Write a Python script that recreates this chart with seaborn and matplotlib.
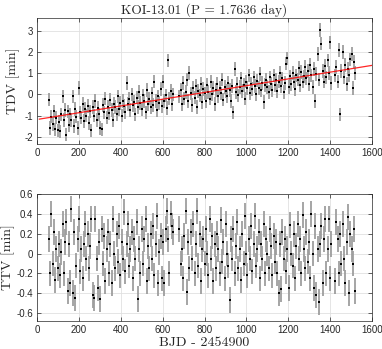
import seaborn as sns
import matplotlib.pyplot as plt

# transit epochs (BJD - 2454900), shared by both panels
bjd = [56, 62, 68, 74, 80, 86, 92, 98, 104, 110,
       116, 122, 128, 134, 140, 146, 152, 158, 164, 170,
       176, 182, 188, 194, 200, 206, 212, 218, 224, 230,
       236, 242, 248, 254, 260, 266, 272, 278, 284, 290,
       296, 302, 308, 314, 320, 326, 332, 338, 344, 350,
       356, 362, 368, 374, 380, 386, 392, 398, 404, 410,
       416, 422, 428, 434, 440, 446, 452, 458, 464, 470,
       476, 482, 488, 494, 500, 506, 512, 518, 524, 530,
       536, 542, 548, 554, 560, 566, 572, 578, 584, 590,
       596, 602, 608, 614, 620, 626, 632, 638, 644, 650,
       680, 686, 692, 698, 704, 710, 716, 722, 728, 734,
       740, 746, 752, 758, 764, 770, 776, 782, 788, 794,
       800, 806, 812, 818, 824, 830, 836, 842, 848, 854,
       860, 866, 872, 878, 884, 890, 896, 902, 908, 914,
       920, 926, 932, 938, 944, 950, 956, 962, 968, 974,
       980, 986, 992, 998, 1004, 1010, 1016, 1022, 1028, 1034,
       1040, 1046, 1052, 1058, 1064, 1070, 1076, 1082, 1088, 1094,
       1100, 1106, 1112, 1118, 1124, 1130, 1136, 1142, 1148, 1154,
       1160, 1166, 1172, 1178, 1184, 1190, 1196, 1202, 1208, 1214,
       1220, 1226, 1232, 1238, 1244, 1250, 1256, 1262, 1268, 1274,
       1280, 1286, 1292, 1298, 1304, 1310, 1316, 1322, 1328, 1334,
       1340, 1346, 1352, 1358, 1364, 1370, 1376, 1382, 1388, 1394,
       1400, 1406,
       1424, 1430, 1436, 1442, 1448, 1454, 1460, 1466, 1472, 1478,
       1484, 1490, 1496, 1502, 1508, 1514, 1520]

# transit duration variations [min]
tdv = [-0.25, -1.6, -1.05, -1.4, -0.8, -1.65, -1.1, -1.7, -1.3, -1.75,
       -0.95, -0.1, -1.2, -0.75, -1.9, -0.8, -1.45, -0.95, -1.2, -0.1,
       -1.5, -0.7, -1.05, -1.6, 0.3, -0.85, -1.1, -0.45, -1.25, -0.7,
       -1.0, -0.55, -1.35, -0.8, -1.7, -0.6, -1.0, -0.3, -1.2, -0.65,
       -0.95, -1.6, -1.65, -0.5, -0.85, -0.2, -1.1, -0.6, -0.9, -0.25,
       -0.75, -1.2, -0.45, -0.6, -0.95, -0.1, -0.7, -0.4, -1.0, -0.3,
       -0.55, -0.85, 0.55, -0.45, -0.2, -0.75, 0.0, -0.5, -0.35, -0.95,
       -0.15, -0.6, 0.1, -0.4, -0.7, -0.05, -0.3, -0.85, 0.2, -0.45,
       -0.2, -0.6, 0.05, -0.5, 0.6, -0.3, -0.75, -0.1, -0.4, 0.25,
       -0.55, 0.6, -0.3, -0.05, -0.65, 1.6, -0.2, 0.15, -0.45, 0.0,
       -0.1, 0.2, -0.45, 0.55, -0.2, 0.1, 0.7, -0.3, 1.0, 0.05,
       -0.5, 0.3, -0.15, 0.4, -0.6, 0.15, -0.05, 0.5, -0.35, 0.25,
       0.05, -0.3, 0.45, 0.1, -0.2, 0.6, 0.0, 0.3, -0.45, 0.2,
       0.5, -0.1, 0.3, 0.05, 0.7, -0.25, 0.35, 0.15, -0.1, 0.55,
       0.2, -0.3, 0.4, -0.85, 1.2, 0.1, 0.5, -0.05, 0.35, 0.75,
       0.15, 0.45, -0.2, 0.6, 0.3, 0.9, 0.05, 0.5, 0.25, 0.8,
       0.4, 0.0, 0.65, 0.3, 0.95, 0.2, 0.55, -0.35, 0.45, 0.7,
       0.35, 0.1, 0.8, 0.5, 0.2, 0.9, 0.45, 0.7, 0.15, 0.6,
       1.0, 0.4, 0.75, 0.1, 0.55, 1.45, 1.7, 0.35, 0.85, 0.5,
       1.0, 0.6, 0.25, 0.9, 0.7, 1.25, 0.45, 1.05, 0.6, 0.85,
       1.3, 0.75, 1.1, 0.5, 1.4, 0.9, 0.35, 1.2, -0.3, 0.95,
       1.9, 0.7, 3.05, 2.4, 1.1, 0.6, 1.35, 0.8, 1.6, 1.0,
       2.45, 0.55,
       0.9, 1.3, 0.6, 2.1, -0.95, 1.1, 2.0, 0.8, 1.4, 0.5,
       1.2, 0.9, 1.65, 1.9, 0.3, 1.55, 1.0]
tdv_err = 0.32

# transit timing variations [min]
ttv = [0.15, -0.2, 0.4, -0.1, 0.22, -0.27, 0.05, -0.15, 0.1, -0.22,
       0.02, 0.3, -0.2, 0.12, 0.32, -0.38, 0.1, -0.3, 0.45, -0.4,
       0.22, -0.45, -0.12, 0.15, 0.35, -0.18, 0.05, -0.25, 0.1, 0.3,
       -0.05, 0.2, -0.15, 0.08, 0.35, -0.42, -0.45, 0.35, -0.05, -0.35,
       0.12, -0.46, 0.25, -0.1, 0.18, -0.28, 0.05, 0.22, -0.2, 0.1,
       -0.3, 0.35, 0.0, -0.15, 0.2, -0.08, 0.28, -0.22, 0.12, -0.05,
       0.42, -0.18, 0.1, 0.3, -0.12, 0.05, 0.22, -0.25, 0.15, -0.05,
       0.32, -0.46, 0.05, -0.2, 0.25, -0.1, 0.15, 0.35, -0.28, 0.08,
       -0.15, 0.2, -0.05, 0.28, -0.22, 0.1, 0.38, -0.3, 0.02, 0.18,
       -0.25, 0.12, -0.3, 0.25, 0.43, 0.15, -0.2, 0.4, 0.28, 0.22,
       0.25, -0.1, 0.05, -0.25, 0.18, 0.43, -0.39, 0.12, -0.15, 0.22,
       -0.05, 0.3, -0.2, 0.1, 0.43, -0.12, 0.2, -0.28, 0.05, 0.15,
       -0.1, 0.25, 0.0, -0.22, 0.35, -0.05, 0.18, -0.28, 0.1, -0.15,
       0.2, 0.05, -0.2, 0.34, -0.08, 0.12, -0.25, 0.3, 0.0, -0.12,
       -0.47, 0.15, -0.05, 0.25, -0.2, 0.08, 0.32, -0.15, 0.05, -0.27,
       0.2, -0.1, 0.38, 0.0, -0.22, 0.15, -0.05, 0.28, -0.18, 0.1,
       0.38, -0.12, 0.05, 0.22, -0.25, 0.1, -0.05, 0.3, -0.2, 0.15,
       0.0, -0.15, 0.25, 0.08, -0.22, 0.18, -0.08, 0.12, -0.2, -0.4,
       0.1, -0.36, 0.22, -0.05, 0.15, -0.18, 0.05, -0.35, 0.29, 0.0,
       -0.12, 0.2, -0.25, 0.08, 0.3, -0.05, 0.15, -0.2, 0.39, 0.05,
       -0.15, 0.22, -0.08, 0.12, -0.25, 0.4, 0.0, -0.35, 0.28, -0.42,
       0.05, -0.49, 0.1, 0.28, -0.3, 0.15, 0.35, -0.2, 0.05, 0.35,
       -0.25, 0.1,
       -0.28, 0.32, 0.15, -0.2, 0.2, -0.1, 0.3, -0.05, -0.3, 0.12,
       0.37, -0.4, 0.2, 0.05, -0.1, 0.25, -0.38]
ttv_err = 0.13

# linear trend of the TDV
trend_x = [10, 1600]
trend_y = [-1.17, 1.37]

sns.set_style("ticks")
plt.rcParams['font.family'] = ['Liberation Sans', 'DejaVu Sans']
serif = dict(family='cmr10', color='0.15')

fig = plt.figure(figsize=(3.82, 3.49), dpi=100)
ax1 = fig.add_axes([0.097, 0.587, 0.877, 0.361])
ax2 = fig.add_axes([0.097, 0.080, 0.877, 0.364])

# top: TDV
ax1.errorbar(bjd, tdv, yerr=tdv_err, fmt='none', ecolor='0.62', elinewidth=1.3, zorder=2)
sns.scatterplot(x=bjd, y=tdv, ax=ax1, color='k', marker='s', s=3.5, linewidth=0, zorder=3)
sns.lineplot(x=trend_x, y=trend_y, ax=ax1, color='red', linewidth=0.9, alpha=0.85, zorder=4)
ax1.set_ylim(-2.35, 3.6)
ax1.set_yticks([-2, -1, 0, 1, 2, 3])
ax1.set_yticklabels(['-2', '-1', '0', '1', '2', '3'])
ax1.set_ylabel('TDV [min]', fontsize=10, labelpad=3, **serif)
ax1.set_title('KOI-13.01 (P = 1.7636 day)', fontsize=9.6, pad=3, **serif)

# bottom: TTV
ax2.errorbar(bjd, ttv, yerr=ttv_err, fmt='none', ecolor='0.62', elinewidth=1.3, zorder=2)
sns.scatterplot(x=bjd, y=ttv, ax=ax2, color='k', marker='s', s=3.5, linewidth=0, zorder=3)
ax2.set_ylim(-0.68, 0.6)
ax2.set_yticks([-0.6, -0.4, -0.2, 0, 0.2, 0.4, 0.6])
ax2.set_yticklabels(['-0.6', '-0.4', '-0.2', '0', '0.2', '0.4', '0.6'])
ax2.set_ylabel('TTV [min]', fontsize=10, labelpad=1, **serif)
ax2.set_xlabel('BJD - 2454900', fontsize=10, labelpad=1, **serif)

for ax in (ax1, ax2):
    ax.set_xlim(0, 1600)
    ax.set_xticks(range(0, 1601, 200))
    ax.grid(True, color='0.88', linewidth=0.6)
    ax.set_axisbelow(True)
    ax.tick_params(direction='in', length=3, width=0.5, labelsize=7,
                   colors='0.15', top=True, right=True, pad=3)
    for sp in ax.spines.values():
        sp.set_visible(True)
        sp.set_color('0.15')
        sp.set_linewidth(0.5)

fig.savefig('out.png', dpi=100)
